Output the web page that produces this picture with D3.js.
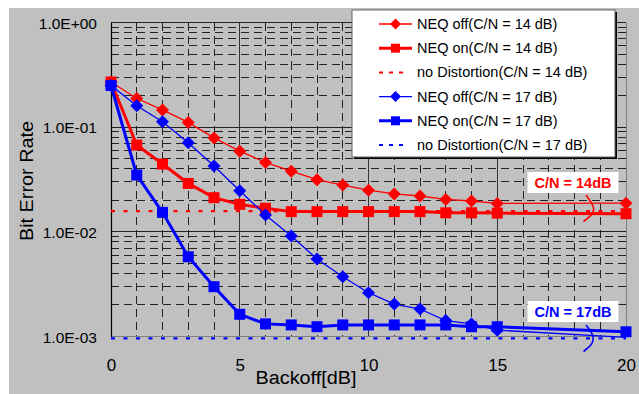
<!DOCTYPE html>
<html><head><meta charset="utf-8">
<script src="https://cdn.jsdelivr.net/npm/d3@7"></script>
<style>
html,body{margin:0;padding:0;background:#fff;}
svg{display:block;font-family:"Liberation Sans",Arial,sans-serif;}
</style></head>
<body><svg id="c" width="639" height="394"></svg>
<script>
// ---- data ----
const backoff = [0,1,2,3,4,5,6,7,8,9,10,11,12,13,14,15,20];
const neqOff14 = [0.27,0.188,0.146,0.111,0.079,0.059,0.046,0.038,0.0315,0.028,0.025,0.023,0.022,0.0204,0.0197,0.0187,0.0188];
const neqOn14  = [0.27,0.0675,0.0444,0.029,0.0212,0.0183,0.0168,0.0156,0.0156,0.0156,0.0156,0.0156,0.0156,0.0152,0.0152,0.0151,0.0149];
const noDist14 = [0.0158,0.0158];
const neqOff17 = [0.25,0.16,0.1127,0.071,0.0425,0.0247,0.01447,0.00912,0.0055,0.00372,0.00262,0.00204,0.00183,0.00142,0.00132,0.00115,0.00098];
const neqOn17  = [0.25,0.0349,0.01535,0.00578,0.00299,0.00163,0.00132,0.00129,0.00124,0.00129,0.00129,0.00129,0.00129,0.00129,0.00124,0.00124,0.00111];
const noDist17 = [0.00096,0.00096];
const noDistX = [0,20];
const xTicks = [0,5,10,15,20];
const yTicks = [1,0.1,0.01,0.001];
const yTickLabels = ["1.0E+00","1.0E-01","1.0E-02","1.0E-03"];
const seriesNames = ["NEQ off(C/N = 14 dB)","NEQ on(C/N = 14 dB)","no Distortion(C/N = 14 dB)","NEQ off(C/N = 17 dB)","NEQ on(C/N = 17 dB)","no Distortion(C/N = 17 dB)"];

const RED="#ff0000", BLUE="#0000ff";
const series = [
  {name:seriesNames[0], xs:backoff, ys:neqOff14, color:RED, w:1.3, marker:"diamond"},
  {name:seriesNames[1], xs:backoff, ys:neqOn14, color:RED, w:3, marker:"square"},
  {name:seriesNames[2], xs:noDistX, ys:noDist14, color:RED, w:2.2, dash:"4,8.5"},
  {name:seriesNames[3], xs:backoff, ys:neqOff17, color:BLUE, w:1.3, marker:"diamond"},
  {name:seriesNames[4], xs:backoff, ys:neqOn17, color:BLUE, w:3, marker:"square"},
  {name:seriesNames[5], xs:noDistX, ys:noDist17, color:BLUE, w:2.2, dash:"4,8.5"}
];

const svg = d3.select("#c");
svg.append("rect").attr("x",9).attr("y",8).attr("width",630).attr("height",386).attr("fill","#c0c0c0");

const x = d3.scaleLinear().domain([0,20]).range([111,626]);
const y = d3.scaleLog().domain([0.001,1]).range([336.5,22.5]);

// grid: minor
const g = svg.append("g");
for (let v=1; v<20; v++) {
  if (v%5===0) continue;
  g.append("line").attr("x1",x(v)).attr("x2",x(v)).attr("y1",y(1)).attr("y2",y(0.001))
    .attr("stroke","#222").attr("stroke-width",1).attr("stroke-dasharray","8,5").attr("shape-rendering","crispEdges");
}
[0.001,0.01,0.1].forEach(d=>{
  for (let k=2;k<=9;k++){
    const v=d*k;
    g.append("line").attr("x1",x(0)).attr("x2",x(20)).attr("y1",y(v)).attr("y2",y(v))
      .attr("stroke","#222").attr("stroke-width",1).attr("stroke-dasharray","8,5").attr("shape-rendering","crispEdges");
  }
});
// major
[5,10,15].forEach(v=>{
  g.append("line").attr("x1",x(v)).attr("x2",x(v)).attr("y1",y(1)).attr("y2",y(0.001))
    .attr("stroke","#333").attr("stroke-width",1).attr("shape-rendering","crispEdges");
});
[1,0.1,0.01].forEach(v=>{
  g.append("line").attr("x1",x(0)).attr("x2",x(20)).attr("y1",y(v)).attr("y2",y(v))
    .attr("stroke","#222").attr("stroke-width",1).attr("shape-rendering","crispEdges");
});
// frame
g.append("line").attr("x1",x(20)).attr("x2",x(20)).attr("y1",y(1)).attr("y2",y(0.001)).attr("stroke","#808080").attr("shape-rendering","crispEdges");
g.append("line").attr("x1",x(0)).attr("x2",x(20)).attr("y1",y(0.001)).attr("y2",y(0.001)).attr("stroke","#808080").attr("shape-rendering","crispEdges");

// axes
const yAxis = d3.axisLeft(y).tickValues(yTicks).tickFormat((d,i)=>yTickLabels[i]).tickSize(0).tickPadding(14);
const ya = svg.append("g").attr("transform",`translate(${x(0)},0)`).call(yAxis);
ya.select(".domain").attr("stroke","#000").attr("stroke-width",1.2);
ya.selectAll("text").attr("font-size","15.5px").attr("fill","#000").attr("font-family","Liberation Sans, Arial, sans-serif").attr("dy","0.36em");

const xAxis = d3.axisBottom(x).tickValues(xTicks).tickFormat(d3.format("d")).tickSize(0).tickPadding(22);
const xa = svg.append("g").attr("transform",`translate(0,${y(0.001)})`).call(xAxis);
xa.select(".domain").remove();
xa.selectAll("text").attr("font-size","17px").attr("fill","#000").attr("font-family","Liberation Sans, Arial, sans-serif");

// titles
svg.append("text").attr("x",306).attr("y",384).attr("text-anchor","middle").attr("font-size","18px").attr("textLength",101).attr("lengthAdjust","spacingAndGlyphs").text("Backoff[dB]");
svg.append("text").attr("transform","translate(33,181) rotate(-90)").attr("text-anchor","middle").attr("font-size","18px").attr("textLength",120).attr("lengthAdjust","spacingAndGlyphs").text("Bit Error Rate");

// series
const diamond = s => `M0,${-s}L${s},0L0,${s}L${-s},0Z`;
const square = s => `M${-s},${-s}H${s}V${s}H${-s}Z`;
series.forEach(s=>{
  const pts = s.xs.map((v,i)=>[x(v), y(s.ys[i]), s.ys[i]]);
  svg.append("path").attr("d",d3.line()(pts.map(p=>[p[0],p[1]]))).attr("fill","none").attr("stroke",s.color)
    .attr("stroke-width",s.w).attr("stroke-dasharray",s.dash||null);
  if (s.marker){
    // markers below the axis minimum are not shown (outside the plot area)
    svg.append("g").selectAll("path").data(pts.filter(p=>p[2]>=0.001)).join("path")
      .attr("transform",d=>`translate(${d[0]},${d[1]})`)
      .attr("d", s.marker==="diamond"? diamond(6.5) : square(5.5))
      .attr("fill",s.color);
  }
});

// annotations
function note(txt,color,cx,top){
  svg.append("rect").attr("x",cx-45.5).attr("y",top).attr("width",91).attr("height",21).attr("fill","#fff");
  svg.append("text").attr("x",cx).attr("y",top+15.5).attr("text-anchor","middle").attr("font-size","14.5px").attr("font-weight","bold").attr("fill",color).text(txt);
}
note("C/N = 14dB",RED,573,172);
note("C/N = 17dB",BLUE,573,301);
const arc = d3.line().curve(d3.curveNatural);
svg.append("path").attr("d",arc([[586,195],[593,206],[592,214],[583.5,221.5]])).attr("fill","none").attr("stroke",RED).attr("stroke-width",1.6);
svg.append("path").attr("d",arc([[586,325],[592.5,335],[591.5,344],[583.5,351.5]])).attr("fill","none").attr("stroke",BLUE).attr("stroke-width",1.6);

// legend
const L = svg.append("g");
L.append("rect").attr("x",354).attr("y",12).attr("width",263).attr("height",147).attr("fill","#000");
L.append("rect").attr("x",352).attr("y",10).attr("width",263).attr("height",147).attr("fill","#fff").attr("stroke","#666").attr("stroke-width",1);
series.forEach((s,i)=>{
  const cy = 24 + i*24.2;
  L.append("line").attr("x1",379).attr("x2",s.dash?409:412).attr("y1",cy).attr("y2",cy)
    .attr("stroke",s.color).attr("stroke-width",s.dash?2:s.w).attr("stroke-dasharray",s.dash?"4,6":null);
  if (s.marker){
    L.append("path").attr("transform",`translate(395.5,${cy})`).attr("d",s.marker==="diamond"?diamond(5.5):square(4.5)).attr("fill",s.color);
  }
  L.append("text").attr("x",417).attr("y",cy+5).attr("font-size","14.5px").attr("fill","#000").text(s.name);
});
</script></body></html>
